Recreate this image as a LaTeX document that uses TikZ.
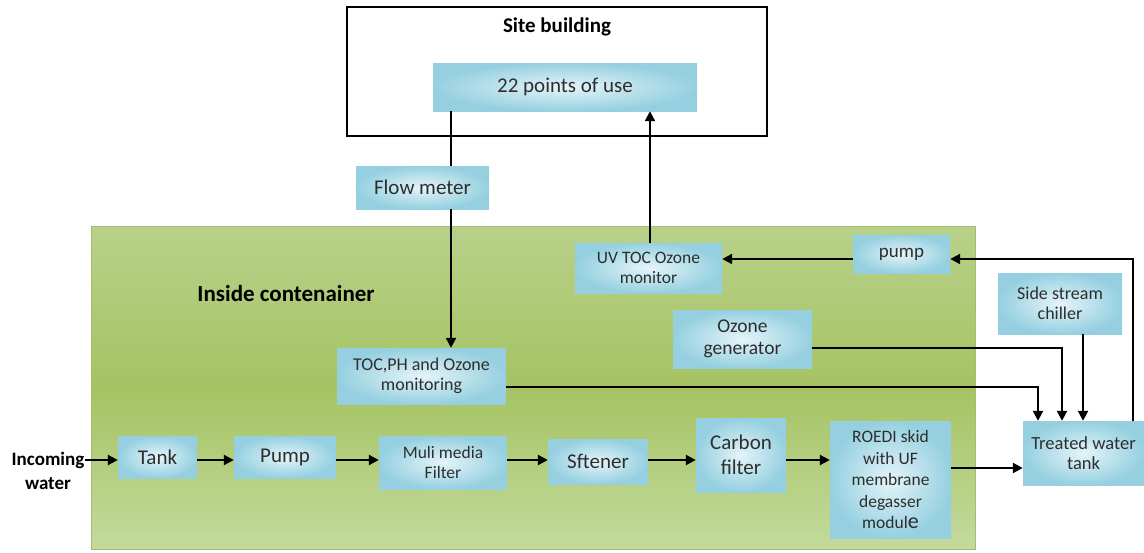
\documentclass[tikz,border=0pt]{standalone}
\usepackage{fontspec}
\setmainfont{Carlito}
\usetikzlibrary{arrows.meta,calc}
\definecolor{boxin}{HTML}{E4F4F9}
\definecolor{boxout}{HTML}{96D0E0}
\definecolor{txt}{HTML}{2E2E2E}
\definecolor{gtop}{HTML}{B8D18A}
\definecolor{gmid}{HTML}{A5C363}
\definecolor{gbot}{HTML}{C3DA9D}
\definecolor{gedge}{HTML}{A3C068}
\begin{document}
\begin{tikzpicture}[x=1pt,y=-1pt,
  box/.style={rectangle, inner sep=0pt, inner color=boxin, outer color=boxout, text=txt, align=center, font=\fontsize{18}{20}\selectfont},
  big/.style={font=\fontsize{21}{23}\selectfont},
  lbl/.style={inner sep=0pt, align=center, font=\fontsize{23}{25}\selectfont\bfseries},
  ln/.style={line width=2.2pt},
  arr/.style={line width=2.2pt, -{Triangle[length=10pt,width=10pt]}}]
\useasboundingbox (0,0) rectangle (1144,552);
% regions
\node[draw=gedge, line width=1pt, top color=gtop, bottom color=gbot, middle color=gmid, minimum width=884pt, minimum height=323pt, inner sep=0pt] (cont) at (533,387.5) {};
\node[draw=black, line width=1.6pt, fill=white, minimum width=420pt, minimum height=129pt, inner sep=0pt] (site) at (557,71.5) {};
\node[lbl, font=\fontsize{21}{23}\selectfont\bfseries] (sitelbl) at (557,27) {Site building};
\node[lbl] (contlbl) at (286,294) {Inside contenainer};
\node[lbl, font=\fontsize{19}{24}\selectfont\bfseries] (inc) at (48,471) {Incoming\\water};
% boxes
\node[box, big, minimum width=264pt, minimum height=48pt] (pou) at (565,87) {22 points of use};
\node[box, big, minimum width=133pt, minimum height=43pt] (flow) at (422.5,187.5) {Flow meter};
\node[box, font=\fontsize{17.5}{19.5}\selectfont, minimum width=147pt, minimum height=50pt] (uv) at (648.5,268) {UV TOC Ozone\\monitor};
\node[box, font=\fontsize{19}{21}\selectfont, minimum width=97pt, minimum height=38pt] (pump2) at (901.5,254) {pump};
\node[box, font=\fontsize{18}{20}\selectfont, minimum width=124pt, minimum height=61pt] (chill) at (1060,303.5) {Side stream\\chiller};
\node[box, font=\fontsize{19.5}{21.5}\selectfont, minimum width=139pt, minimum height=58pt] (oz) at (742.5,339) {Ozone\\generator};
\node[box, font=\fontsize{18}{20}\selectfont, minimum width=169pt, minimum height=56pt] (toc) at (421.5,376) {TOC,PH and Ozone\\monitoring};
\node[box, big, minimum width=79pt, minimum height=42pt] (tank) at (157.5,457) {Tank};
\node[box, big, minimum width=102pt, minimum height=42pt] (pumpA) at (285,457) {Pump};
\node[box, font=\fontsize{17.5}{20}\selectfont, minimum width=128pt, minimum height=53pt] (mmf) at (443,462.5) {Muli media\\Filter};
\node[box, big, minimum width=100pt, minimum height=45pt] (soft) at (598,461.5) {Sftener};
\node[box, font=\fontsize{21}{25}\selectfont, minimum width=90pt, minimum height=74pt] (carb) at (741,455) {Carbon\\filter};
\node[box, font=\fontsize{17.5}{21.5}\selectfont, minimum width=121pt, minimum height=117pt] (roedi) at (890.5,479.5) {ROEDI skid\\with UF\\membrane\\degasser\\modul{\fontsize{22}{21.5}\selectfont e}};
\node[box, font=\fontsize{18.5}{20.5}\selectfont, minimum width=121pt, minimum height=64pt] (treat) at (1083.5,453) {Treated water\\tank};
% helper coordinates
\coordinate (xa) at (451,0);
\coordinate (xb) at (650,0);
\coordinate (ya) at (0,259);
\coordinate (xr) at (1133,0);
\coordinate (yr1) at (0,460);
\coordinate (yr2) at (0,460);
\coordinate (yr3) at (0,468);
\coordinate (xt1) at (1038,0);
\coordinate (xt2) at (1062,0);
\coordinate (xt3) at (1083,0);
\coordinate (ytoc) at (0,387);
\coordinate (yoz) at (0,348);
% connectors
\draw[ln] (pou.south -| xa) -- (flow.north -| xa);
\draw[arr] (flow.south -| xa) -- (toc.north -| xa);
\draw[arr] (uv.north -| xb) -- (pou.south -| xb);
\draw[arr] (pump2.west |- ya) -- (uv.east |- ya);
\draw[arr] (treat.north -| xr) -- (xr |- ya) -- (pump2.east |- ya);
\draw[arr] (toc.east |- ytoc) -- (xt1 |- ytoc) -- (treat.north -| xt1);
\draw[arr] (oz.east |- yoz) -- (xt2 |- yoz) -- (treat.north -| xt2);
\draw[arr] (chill.south -| xt3) -- (treat.north -| xt3);
\draw[arr] (inc.east |- yr1) -- (tank.west |- yr1);
\draw[arr] (tank.east |- yr1) -- (pumpA.west |- yr1);
\draw[arr] (pumpA.east |- yr1) -- (mmf.west |- yr1);
\draw[arr] (mmf.east |- yr1) -- (soft.west |- yr1);
\draw[arr] (soft.east |- yr2) -- (carb.west |- yr2);
\draw[arr] (carb.east |- yr2) -- (roedi.west |- yr2);
\draw[arr] (roedi.east |- yr3) -- (treat.west |- yr3);
\end{tikzpicture}
\end{document}
